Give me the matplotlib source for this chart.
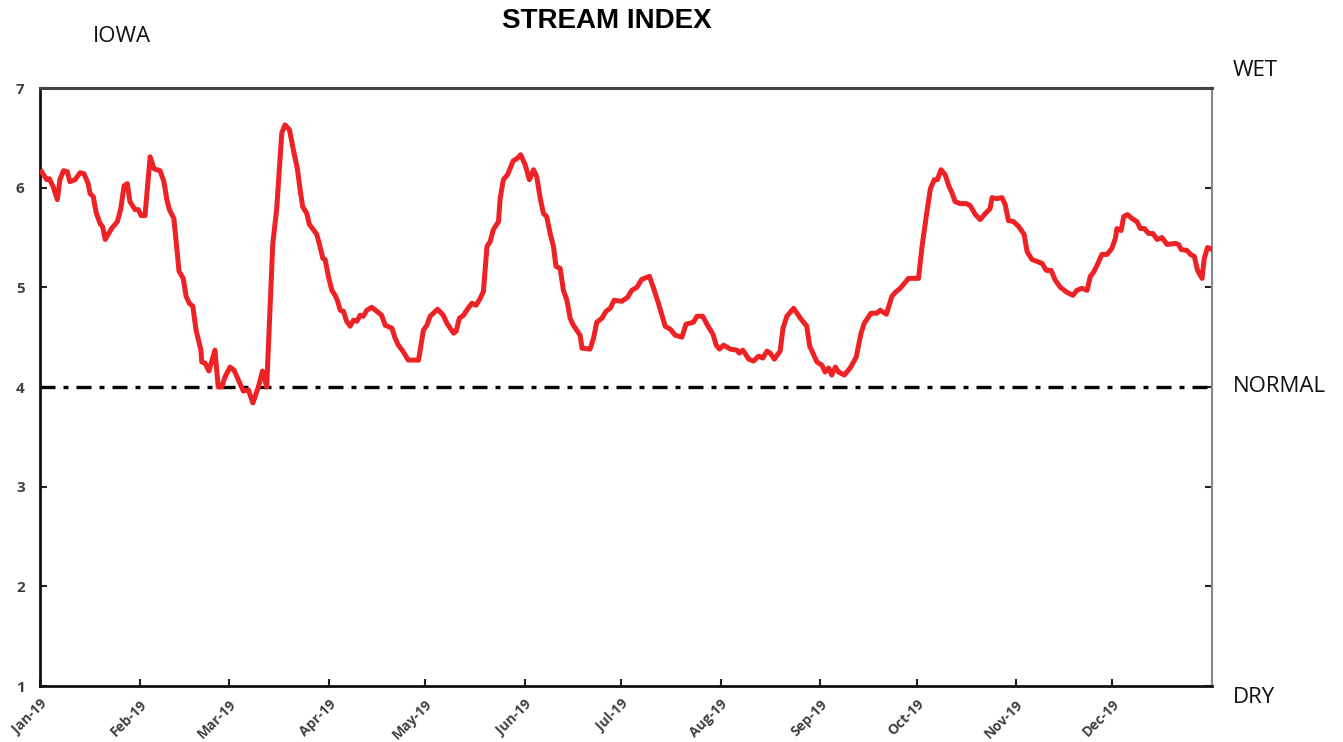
import numpy as np
import pandas as pd
import matplotlib
matplotlib.use("Agg")
import matplotlib.pyplot as plt
import matplotlib.dates as mdates

# ---------------- data (day offset from 1 Jan 2019, stream index) ----------------
day = [0.5, 2.1, 2.9, 4.1, 5.4, 6.2, 7.3, 8.5, 9.3, 10.9, 12.5, 13.7, 15.0, 15.6, 16.6,
       17.4, 18.7, 19.5, 20.3, 22.3, 24.1, 25.1, 26.2, 27.2, 28.0, 29.6, 30.6, 31.5, 32.7,
       34.3, 35.5, 37.4, 38.6, 39.5, 40.3, 41.7, 43.3, 44.6, 45.5, 46.5, 47.6, 48.6, 50.1,
       50.4, 51.4, 52.6, 54.5, 55.5, 56.6, 57.6, 59.2, 60.4, 61.8, 63.3, 64.9, 66.3, 68.0,
       69.3, 70.6, 72.5, 73.7, 75.3, 76.3, 77.7, 78.9, 80.2, 81.0, 81.8, 83.1, 83.9, 85.1,
       86.2, 87.2, 88.1, 88.8, 89.8, 90.9, 91.9, 92.6, 93.5, 94.5, 95.5, 96.6, 97.6, 98.7,
       99.7, 100.7, 101.8, 103.3, 104.9, 106.4, 107.5, 109.6, 110.6, 111.6, 113.0, 114.7,
       117.9, 119.4, 120.5, 121.5, 123.8, 125.6, 126.7, 128.8, 129.6, 130.6, 131.9, 132.9,
       134.5, 135.8, 137.1, 138.1, 139.2, 140.2, 141.2, 142.8, 143.3, 144.3, 145.6, 147.4,
       148.5, 149.7, 151.1, 152.4, 153.7, 154.7, 155.8, 156.8, 157.8, 158.9, 159.9, 160.7,
       162.0, 163.0, 164.1, 165.1, 166.1, 168.2, 168.8, 171.3, 172.4, 173.4, 175.0, 176.3,
       177.6, 178.8, 181.2, 183.0, 184.3, 185.9, 187.4, 189.8, 191.1, 192.6, 194.7, 196.3,
       197.8, 199.9, 201.2, 203.5, 204.6, 206.4, 207.7, 209.6, 210.6, 211.6, 212.9, 215.0,
       217.0, 217.8, 218.9, 220.7, 222.2, 223.8, 225.1, 226.4, 227.4, 228.7, 230.5, 231.4,
       232.6, 234.7, 236.8, 238.8, 239.7, 242.0, 243.5, 244.5, 245.6, 246.6, 247.7, 248.7,
       250.5, 252.3, 254.2, 255.7, 256.7, 258.8, 260.6, 261.7, 263.6, 265.3, 266.4, 267.9,
       269.2, 270.5, 273.6, 274.7, 276.0, 277.3, 278.5, 279.5, 280.6, 281.9, 283.0, 284.0,
       285.0, 286.6, 288.5, 289.7, 291.3, 292.8, 294.4, 295.9, 296.5, 298.0, 299.6, 300.6,
       301.6, 303.2, 304.8, 306.5, 307.4, 308.9, 310.5, 312.1, 313.4, 314.9, 316.2, 317.8,
       319.8, 321.7, 322.9, 324.5, 326.1, 327.1, 328.1, 329.2, 330.7, 332.3, 333.8, 334.9,
       335.4, 336.7, 337.5, 338.7, 340.1, 341.6, 342.7, 343.9, 345.3, 346.6, 347.9, 349.4,
       351.0, 353.6, 354.6, 355.4, 357.2, 358.3, 359.5, 360.5, 361.9, 362.6, 363.6, 365.0]

index = [6.16, 6.08, 6.09, 6.01, 5.88, 6.08, 6.17, 6.16, 6.06, 6.08, 6.15, 6.14, 6.04, 5.94, 5.91,
         5.76, 5.64, 5.61, 5.48, 5.59, 5.66, 5.78, 6.02, 6.04, 5.86, 5.78, 5.78, 5.72, 5.72,
         6.31, 6.19, 6.17, 6.06, 5.88, 5.78, 5.69, 5.16, 5.09, 4.91, 4.84, 4.81, 4.57, 4.37,
         4.25, 4.24, 4.16, 4.37, 4.00, 4.00, 4.10, 4.20, 4.17, 4.07, 3.96, 3.97, 3.84, 4.00,
         4.16, 4.00, 5.44, 5.78, 6.55, 6.63, 6.58, 6.38, 6.18, 5.98, 5.81, 5.74, 5.63, 5.58,
         5.53, 5.41, 5.29, 5.28, 5.11, 4.97, 4.92, 4.87, 4.77, 4.76, 4.66, 4.61, 4.67, 4.66,
         4.72, 4.71, 4.77, 4.80, 4.76, 4.72, 4.62, 4.59, 4.49, 4.42, 4.36, 4.27,
         4.27, 4.57, 4.62, 4.71, 4.78, 4.72, 4.64, 4.54, 4.56, 4.69, 4.72, 4.77,
         4.84, 4.82, 4.89, 4.96, 5.41, 5.46, 5.58, 5.66, 5.89, 6.08, 6.13, 6.27,
         6.29, 6.33, 6.23, 6.08, 6.18, 6.11, 5.89, 5.74, 5.71, 5.54, 5.41, 5.21,
         5.19, 4.97, 4.87, 4.69, 4.62, 4.52, 4.39, 4.38, 4.49, 4.65, 4.69, 4.76,
         4.79, 4.87, 4.86, 4.90, 4.97, 5.00, 5.08, 5.11, 4.99, 4.84, 4.61, 4.58,
         4.52, 4.50, 4.63, 4.65, 4.71, 4.71, 4.63, 4.53, 4.42, 4.38, 4.42, 4.38,
         4.37, 4.34, 4.37, 4.28, 4.26, 4.31, 4.29, 4.36, 4.34, 4.28, 4.36, 4.59,
         4.71, 4.79, 4.69, 4.61, 4.41, 4.25, 4.22, 4.15, 4.19, 4.12, 4.20, 4.15,
         4.12, 4.19, 4.30, 4.54, 4.64, 4.74, 4.74, 4.77, 4.73, 4.91, 4.95, 4.99,
         5.04, 5.09, 5.09, 5.41, 5.71, 5.99, 6.08, 6.08, 6.18, 6.13, 6.02, 5.95,
         5.86, 5.84, 5.84, 5.82, 5.73, 5.68, 5.74, 5.79, 5.90, 5.89, 5.90, 5.83,
         5.67, 5.66, 5.61, 5.53, 5.36, 5.28, 5.26, 5.24, 5.17, 5.17, 5.07, 5.00,
         4.95, 4.92, 4.97, 4.99, 4.97, 5.11, 5.15, 5.22, 5.33, 5.33, 5.39, 5.49,
         5.59, 5.57, 5.71, 5.73, 5.69, 5.66, 5.59, 5.59, 5.54, 5.54, 5.48, 5.50,
         5.43, 5.44, 5.43, 5.38, 5.37, 5.33, 5.31, 5.17, 5.09, 5.29, 5.40, 5.38]

normal_level = 4
y_ticks = [1, 2, 3, 4, 5, 6, 7]
side_labels = {"WET": 7, "NORMAL": 4, "DRY": 1}

dates = pd.Timestamp("2019-01-01") + pd.to_timedelta(day, unit="D")

# ---------------- plot ----------------
fig = plt.figure(figsize=(13.43, 7.42), dpi=100)
ax = fig.add_axes([40/1343, 1-686/742, (1212-40)/1343, (686-88)/742])

ax.plot(dates, index, color="#ee2124", lw=3.6, solid_joinstyle="round", zorder=3)
ax.axhline(normal_level, color="black", lw=2.4, dashes=(4.5, 2.4, 1.5, 2.4), zorder=2)

ax.set_xlim(pd.Timestamp("2019-01-01"), pd.Timestamp("2020-01-01"))
ax.set_ylim(1, 7)
ax.set_yticks(y_ticks)
ax.xaxis.set_major_locator(mdates.MonthLocator())
ax.xaxis.set_major_formatter(mdates.DateFormatter("%b-%y"))
ax.set_xticks(ax.get_xticks()[:-1])

ax.tick_params(axis="both", direction="in", length=5, width=1.5, colors="#222222",
               labelcolor="#404040")
ax.tick_params(axis="y", right=True, pad=11, labelsize=11)
ax.tick_params(axis="x", pad=8, labelsize=10)
for lab in ax.get_yticklabels():
    lab.set_fontweight("bold")
    lab.set_fontfamily("Open Sans")
for lab in ax.get_xticklabels():
    lab.set_rotation(45)
    lab.set_ha("right")
    lab.set_rotation_mode("anchor")
    lab.set_fontweight("bold")
    lab.set_fontfamily("Open Sans")

for side in ["left", "bottom"]:
    ax.spines[side].set_linewidth(2)
    ax.spines[side].set_color("#111111")
ax.spines["top"].set_linewidth(2.2)
ax.spines["top"].set_color("#444444")
ax.spines["right"].set_linewidth(1.5)
ax.spines["right"].set_color("#888888")
for t in ax.yaxis.get_ticklines()[1::2]:
    t.set_color("#888888")

for txt, val in side_labels.items():
    ax.text(1.0175, (val - 1) / 6 + (0.03 if val == 7 else -0.02 if val == 1 else 0.0),
            txt, transform=ax.transAxes, ha="left", va="center",
            fontsize=16, family="Open Sans", color="#111111")

fig.text(607/1343, 1-21/742, "STREAM INDEX", ha="center", va="center",
         fontsize=20, fontweight="bold", family="Liberation Sans")
fig.text(93/1343, 1-37/742, "IOWA", ha="left", va="center",
         fontsize=16, family="Open Sans", color="#111111")

fig.savefig("out.png", dpi=100)
